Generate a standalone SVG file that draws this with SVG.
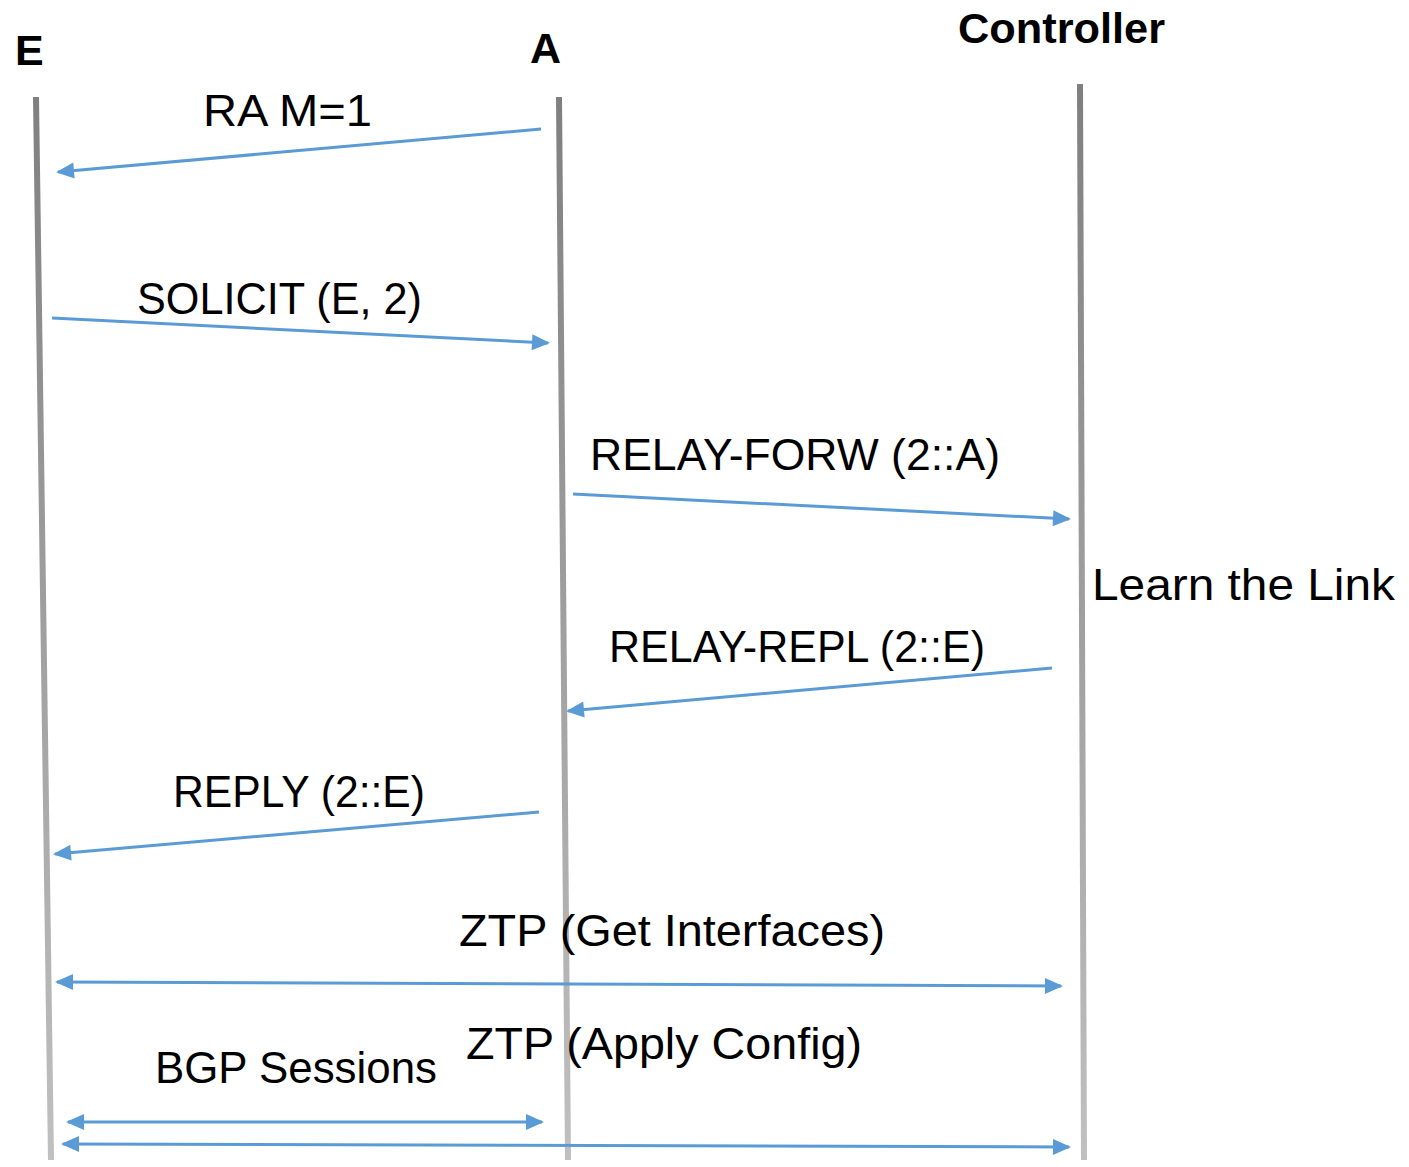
<svg xmlns="http://www.w3.org/2000/svg" width="1409" height="1167" viewBox="0 0 1409 1167">
<defs>
<linearGradient id="lg" gradientUnits="userSpaceOnUse" x1="0" y1="84" x2="0" y2="1160">
<stop offset="0" stop-color="#7f7f7f"/>
<stop offset="1" stop-color="#c0c0c0"/>
</linearGradient>
<marker id="ah" refX="16" refY="8" markerWidth="18" markerHeight="16" markerUnits="userSpaceOnUse" orient="auto-start-reverse" overflow="visible">
<path d="M0,0 L18,8 L0,16 z" fill="#5b9bd5"/>
</marker>
</defs>
<style>
.life{stroke:url(#lg);stroke-width:6;fill:none}
.msg{stroke:#5b9bd5;stroke-width:3;fill:none}
.hd{font-family:"Liberation Sans",Arial,sans-serif;font-weight:bold;font-size:43px;fill:#000}
.lb{font-family:"Liberation Sans",Arial,sans-serif;font-size:45px;fill:#000}
</style>
<rect width="1409" height="1167" fill="#fff"/>
<g id="node-E">
<line class="life" x1="36" y1="97" x2="51" y2="1160"/>
<text class="hd" x="15" y="65">E</text>
</g>
<g id="node-A">
<line class="life" x1="559" y1="97" x2="568" y2="1160"/>
<text class="hd" x="530" y="63">A</text>
</g>
<g id="node-Controller">
<line class="life" x1="1080" y1="84" x2="1084" y2="1160"/>
<text class="hd" x="958" y="43" textLength="207" lengthAdjust="spacingAndGlyphs">Controller</text>
</g>
<g id="connectors">
<line class="msg" x1="541" y1="129" x2="58" y2="172" marker-end="url(#ah)"/>
<line class="msg" x1="52" y1="318" x2="548" y2="343" marker-end="url(#ah)"/>
<line class="msg" x1="573" y1="494" x2="1069" y2="519" marker-end="url(#ah)"/>
<line class="msg" x1="1052" y1="668" x2="568" y2="711" marker-end="url(#ah)"/>
<line class="msg" x1="539" y1="812" x2="55" y2="854" marker-end="url(#ah)"/>
<line class="msg" x1="57" y1="982" x2="1061" y2="986" marker-start="url(#ah)" marker-end="url(#ah)"/>
<line class="msg" x1="68" y1="1122" x2="542" y2="1122" marker-start="url(#ah)" marker-end="url(#ah)"/>
<line class="msg" x1="63" y1="1144" x2="1069" y2="1147" marker-start="url(#ah)" marker-end="url(#ah)"/>
</g>
<g id="labels">
<text class="lb" x="203" y="126" textLength="169" lengthAdjust="spacingAndGlyphs">RA M=1</text>
<text class="lb" x="137" y="314" textLength="285" lengthAdjust="spacingAndGlyphs">SOLICIT (E, 2)</text>
<text class="lb" x="590" y="470" textLength="410" lengthAdjust="spacingAndGlyphs">RELAY-FORW (2::A)</text>
<text class="lb" x="1092" y="600" textLength="303" lengthAdjust="spacingAndGlyphs">Learn the Link</text>
<text class="lb" x="609" y="662" textLength="376" lengthAdjust="spacingAndGlyphs">RELAY-REPL (2::E)</text>
<text class="lb" x="173" y="807" textLength="252" lengthAdjust="spacingAndGlyphs">REPLY (2::E)</text>
<text class="lb" x="459" y="946" textLength="426" lengthAdjust="spacingAndGlyphs">ZTP (Get Interfaces)</text>
<text class="lb" x="466" y="1059" textLength="396" lengthAdjust="spacingAndGlyphs">ZTP (Apply Config)</text>
<text class="lb" x="155" y="1083" textLength="282" lengthAdjust="spacingAndGlyphs">BGP Sessions</text>
</g>
</svg>
